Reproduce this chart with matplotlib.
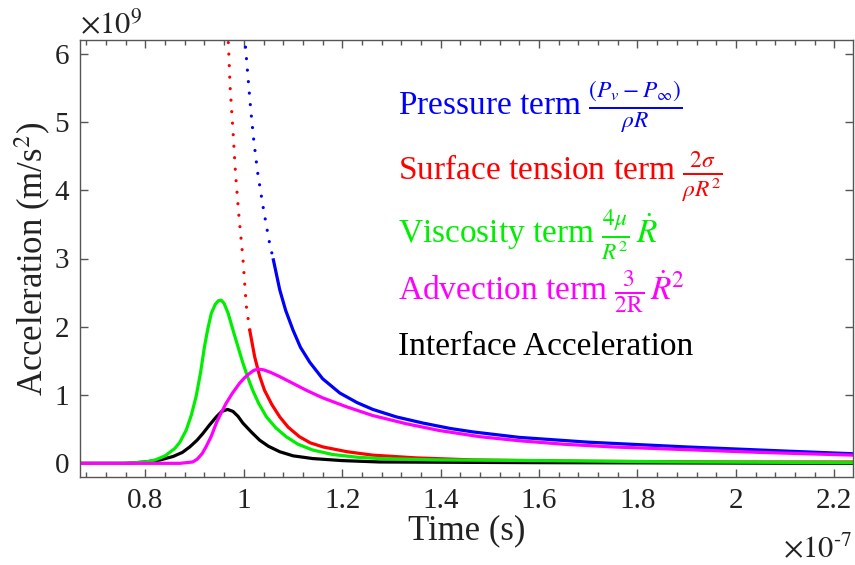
import numpy as np
import matplotlib
matplotlib.use('Agg')
import matplotlib.pyplot as plt
from matplotlib.ticker import MultipleLocator, FuncFormatter

plt.rcParams['font.family'] = ['Liberation Serif', 'DejaVu Serif']
plt.rcParams['mathtext.fontset'] = 'stix'

# time in units of 1e-7 s, acceleration in units of 1e9 m/s^2
t_pressure = [0.997, 1.003, 1.008, 1.014, 1.020, 1.028, 1.039, 1.051, 1.060, 1.073, 1.085,
              1.100, 1.115, 1.134, 1.160, 1.195, 1.230, 1.262, 1.310, 1.364, 1.420, 1.466,
              1.560, 1.700, 1.900, 2.100, 2.240]
a_pressure = [6.60, 6.13, 5.69, 5.18, 4.74, 4.26, 3.76, 3.27, 2.98, 2.54, 2.24,
              1.95, 1.70, 1.48, 1.24, 1.03, 0.89, 0.79, 0.68, 0.59, 0.51, 0.46,
              0.38, 0.31, 0.24, 0.18, 0.14]

t_surface = [0.966, 0.969, 0.972, 0.978, 0.983, 0.990, 0.998, 1.005, 1.012, 1.022, 1.032,
             1.042, 1.057, 1.073, 1.090, 1.113, 1.135, 1.161, 1.210, 1.262, 1.350, 1.466,
             1.700, 2.000, 2.240]
a_surface = [6.50, 6.08, 5.52, 4.86, 4.25, 3.62, 3.01, 2.30, 1.95, 1.56, 1.28,
             1.07, 0.86, 0.68, 0.53, 0.39, 0.30, 0.24, 0.17, 0.12, 0.08, 0.05,
             0.03, 0.02, 0.02]

t_viscosity = [0.667, 0.750, 0.780, 0.800, 0.820, 0.840, 0.860, 0.870, 0.883, 0.893, 0.903,
               0.912, 0.920, 0.927, 0.934, 0.942, 0.948, 0.954, 0.960, 0.968, 0.978, 0.988,
               0.998, 1.008, 1.018, 1.030, 1.046, 1.065, 1.086, 1.110, 1.140, 1.180, 1.230,
               1.276, 1.400, 1.600, 1.900, 2.240]
a_viscosity = [0.00, 0.00, 0.01, 0.02, 0.05, 0.11, 0.22, 0.31, 0.49, 0.70, 0.98,
               1.33, 1.71, 1.98, 2.20, 2.33, 2.38, 2.39, 2.34, 2.20, 1.95, 1.71,
               1.47, 1.26, 1.07, 0.88, 0.68, 0.52, 0.39, 0.28, 0.195, 0.13, 0.09,
               0.07, 0.05, 0.04, 0.02, 0.01]

t_advection = [0.667, 0.870, 0.896, 0.905, 0.915, 0.923, 0.934, 0.944, 0.954, 0.964, 0.977,
               0.991, 1.001, 1.012, 1.020, 1.028, 1.040, 1.055, 1.073, 1.100, 1.127, 1.160,
               1.208, 1.262, 1.330, 1.398, 1.480, 1.561, 1.650, 1.750, 1.900, 2.050, 2.240]
a_advection = [0.00, 0.00, 0.02, 0.06, 0.14, 0.24, 0.40, 0.59, 0.74, 0.88, 1.03,
               1.17, 1.25, 1.32, 1.36, 1.38, 1.37, 1.33, 1.27, 1.17, 1.07, 0.96,
               0.83, 0.70, 0.58, 0.48, 0.39, 0.33, 0.28, 0.24, 0.20, 0.16, 0.12]

t_interface = [0.667, 0.760, 0.800, 0.830, 0.856, 0.875, 0.890, 0.905, 0.917, 0.930, 0.944,
               0.955, 0.967, 0.978, 0.988, 0.998, 1.015, 1.032, 1.050, 1.073, 1.100, 1.140,
               1.200, 1.276, 1.600, 2.240]
a_interface = [0.00, 0.00, 0.02, 0.05, 0.10, 0.16, 0.24, 0.34, 0.44, 0.56, 0.68,
               0.76, 0.79, 0.76, 0.69, 0.59, 0.46, 0.34, 0.25, 0.17, 0.11, 0.07,
               0.04, 0.02, 0.01, 0.00]

labels = [r'Pressure term $\frac{(P_v - P_\infty)}{\rho R}$',
          r'Surface tension term $\frac{2\sigma}{\rho R^2}$',
          r'Viscosity term $\frac{4\mu}{R^2}\,\dot{R}$',
          r'Advection term $\frac{3}{2\mathrm{R}}\,\dot{R}^2$',
          'Interface Acceleration']
label_colors = ['#0000ff', '#ff0000', '#00ee00', '#ff00ff', '#000000']

TS = 1e-7
AS = 1e9

fig = plt.figure(figsize=(8.55, 5.65), dpi=100)
ax = fig.add_axes([80 / 855, 1 - 477 / 565, 773 / 855, 437 / 565])

lw = 2.3
dots = dict(linestyle=(0, (0.01, 3.6)), dash_capstyle='round', lw=lw)


def split_plot(t, a, limit, color):
    # the steep part of the 1/R terms shows as separate dots
    t, a = np.array(t), np.array(a)
    n = int(np.sum(a > limit))
    ax.plot(t[:n + 1] * TS, a[:n + 1] * AS, color=color, **dots)
    ax.plot(t[n:] * TS, a[n:] * AS, color=color, lw=lw)


split_plot(t_pressure, a_pressure, 3.0, '#0000ff')
split_plot(t_surface, a_surface, 2.2, '#ff0000')

ax.plot(np.array(t_interface) * TS, np.array(a_interface) * AS, color='#000000', lw=lw)
ax.plot(np.array(t_viscosity) * TS, np.array(a_viscosity) * AS, color='#00ee00', lw=lw)
ax.plot(np.array(t_advection) * TS, np.array(a_advection) * AS, color='#ff00ff', lw=lw)

ax.set_xlim(0.667 * TS, 2.238 * TS)
ax.set_ylim(-0.2 * AS, 6.2 * AS)

ax.xaxis.set_major_locator(MultipleLocator(0.2 * TS))
ax.xaxis.set_minor_locator(MultipleLocator(0.04 * TS))
ax.yaxis.set_major_locator(MultipleLocator(1 * AS))
ax.xaxis.set_major_formatter(FuncFormatter(lambda v, p: '%g' % round(v / TS, 3)))
ax.yaxis.set_major_formatter(FuncFormatter(lambda v, p: '%g' % round(v / AS, 3)))

ax.tick_params(which='both', direction='in', top=True, right=True,
               colors='#555555', labelcolor='#222222', labelsize=21, width=1)
ax.tick_params(which='major', length=6, pad=8)
ax.tick_params(which='minor', length=3.5)
for s in ax.spines.values():
    s.set_color('#555555')
    s.set_linewidth(1)

ax.set_xlabel('Time (s)', fontsize=25, color='#222222', labelpad=0)
ax.set_ylabel(r'Acceleration (m/s$^2$)', fontsize=25, color='#222222', labelpad=1)

fig.text(80 / 855, 1 - 33 / 565, r'$\times10^{9}$', fontsize=22, color='#222222',
         ha='left', va='baseline')
fig.text(852 / 855, 1 - 557 / 565, r'$\times10^{\text{-}7}$', fontsize=22, color='#222222',
         ha='right', va='baseline')

baselines = [115, 180, 243, 300, 355]
for lab, col, yb in zip(labels, label_colors, baselines):
    fig.text(398 / 855, 1 - yb / 565, lab, fontsize=24, color=col, ha='left', va='baseline')

fig.savefig('out.png', dpi=100)
